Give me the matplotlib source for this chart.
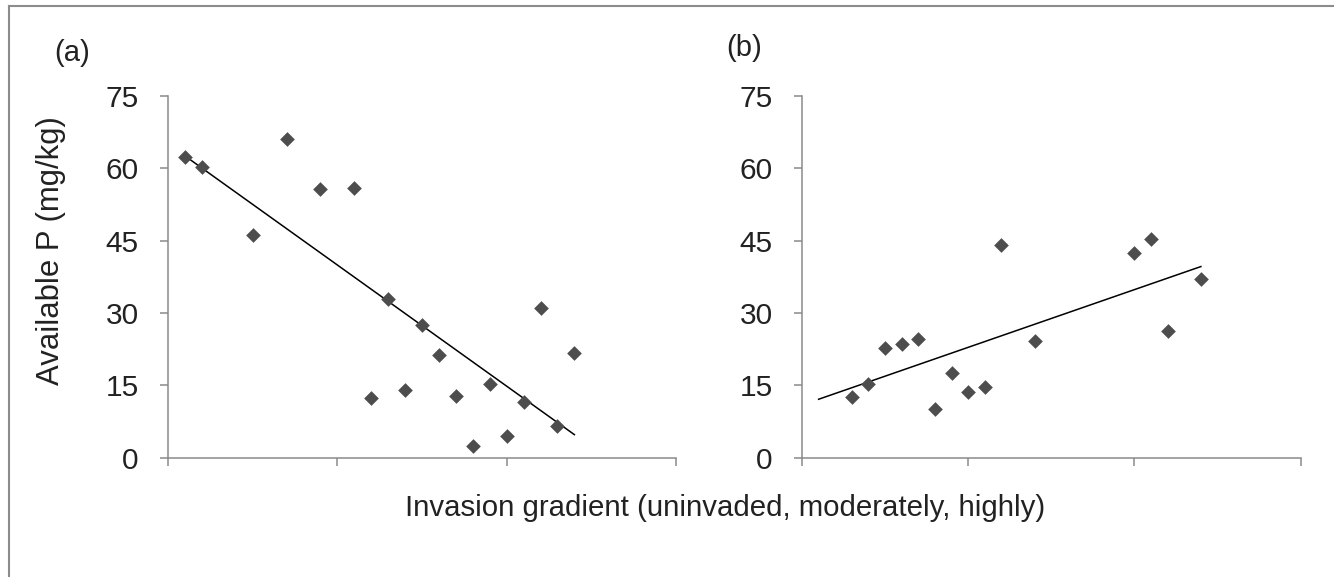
import numpy as np
import matplotlib.pyplot as plt
from matplotlib.lines import Line2D

plt.rcParams['font.family'] = ['Liberation Sans', 'DejaVu Sans']

# panel (a): available P along the invasion gradient
x_a = [0.1, 0.2, 0.5, 0.7, 0.9, 1.1, 1.2, 1.3, 1.4, 1.5, 1.6, 1.7, 1.8, 1.9, 2.0, 2.1, 2.2, 2.3, 2.4]
p_a = [62.4, 60.3, 46.1, 66.1, 55.7, 56.0, 12.4, 32.9, 14.0, 27.4, 21.2, 12.8, 2.4, 15.3, 4.4, 11.6, 31.1, 6.5, 21.7]

# panel (b)
x_b = [0.3, 0.4, 0.5, 0.6, 0.7, 0.8, 0.9, 1.0, 1.1, 1.2, 1.4, 2.0, 2.1, 2.2, 2.4]
p_b = [12.5, 15.3, 22.8, 23.6, 24.5, 10.1, 17.6, 13.5, 14.7, 44.1, 24.1, 42.5, 45.4, 26.2, 37.1]

y_ticks = [0, 15, 30, 45, 60, 75]
x_ticks = [0, 1, 2, 3]

# trend line extends backwards a little in (b)
back_forecast = {'a': 0.0, 'b': 0.2}

TEXT = '#222222'
AXIS = '#8a8a8a'
MARK = '#4d4d4d'

fig = plt.figure(figsize=(13.34, 5.77), dpi=100)
fig.patch.set_facecolor('white')

panels = [
    ('a', x_a, p_a, [168 / 1334, 0.2071, 508 / 1334, 0.6265]),
    ('b', x_b, p_b, [802 / 1334, 0.2071, 498.6 / 1334, 0.6265]),
]

for name, xs, ys, rect in panels:
    ax = fig.add_axes(rect)
    ax.scatter(xs, ys, marker='D', s=56, color=MARK, linewidths=0, zorder=3)

    slope, icpt = np.polyfit(xs, ys, 1)
    xl = np.array([min(xs) - back_forecast[name], max(xs)])
    ax.plot(xl, slope * xl + icpt, color='black', lw=1.1, zorder=2)

    ax.set_xlim(0, 3)
    ax.set_ylim(0, 75)
    ax.set_xticks(x_ticks)
    ax.set_xticklabels([])
    ax.set_yticks(y_ticks)
    ax.tick_params(axis='both', direction='out', length=6, width=1.1, color=AXIS,
                   labelsize=21.5, labelcolor=TEXT)
    ax.tick_params(axis='y', pad=15)
    for side in ['top', 'right']:
        ax.spines[side].set_visible(False)
    for side in ['left', 'bottom']:
        ax.spines[side].set_color(AXIS)
        ax.spines[side].set_linewidth(1.1)

fig.text(54 / 1334, 1 - 53 / 577, '(a)', fontsize=21, color=TEXT, va='center', ha='left')
fig.text(726 / 1334, 1 - 48 / 577, '(b)', fontsize=21, color=TEXT, va='center', ha='left')

fig.text(51.5 / 1334, 1 - 251 / 577, 'Available P (mg/kg)', rotation=90, fontsize=22.4,
         color=TEXT, va='center', ha='center')
fig.text(725 / 1334, 1 - 508 / 577, 'Invasion gradient (uninvaded, moderately, highly)',
         fontsize=21.2, color=TEXT, va='center', ha='center')

# thin outer frame on top and left
fig.add_artist(Line2D([9 / 1334, 1], [1 - 6 / 577, 1 - 6 / 577], transform=fig.transFigure,
                      color='#8c8c8c', lw=1.5))
fig.add_artist(Line2D([9 / 1334, 9 / 1334], [0, 1 - 6 / 577], transform=fig.transFigure,
                      color='#8c8c8c', lw=1.5))

fig.savefig('out.png', dpi=100, facecolor='white')
